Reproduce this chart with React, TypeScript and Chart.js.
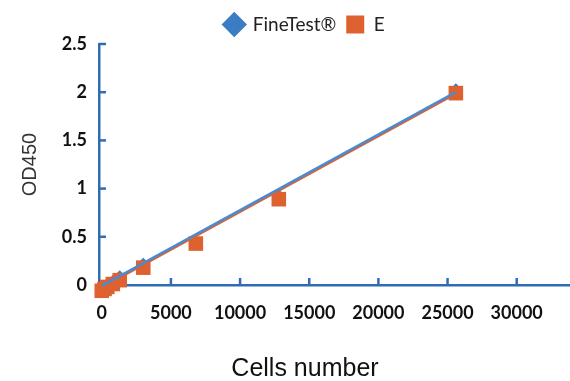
import React, { useEffect, useRef } from 'react';
import { Chart, registerables } from 'chart.js';

Chart.register(...registerables);

// ---- data ----
const cellCounts = [0, 200, 400, 800, 1300, 3000, 6800, 12800, 25600];
const fineTestOD = [-0.03, -0.02, 0.0, 0.03, 0.08, 0.21, 0.43, 0.92, 2.02];
const eOD = [-0.06, -0.04, -0.02, 0.01, 0.05, 0.18, 0.43, 0.89, 1.99];
const fitCells = [0, 25600];
const fineTestFitOD = [-0.01, 2.0];
const eFitOD = [-0.025, 1.985];
const xTickValues = [0, 5000, 10000, 15000, 20000, 25000, 30000];
const yTickValues = [0, 0.5, 1, 1.5, 2, 2.5];
const seriesNames = ['FineTest®', 'E'];
const xAxisTitle = 'Cells number';
const yAxisTitle = 'OD450';

const BLUE = '#3B7CC2';
const ORANGE = '#DE6130';
const AXIS = '#2F6CB3';

const toPoints = (xs: number[], ys: number[]) => xs.map((x, i) => ({ x, y: ys[i] }));

const innerTicks = {
  id: 'innerTicks',
  afterDraw(chart: any) {
    const { ctx, chartArea, scales } = chart;
    const xs = scales.x;
    const ys = scales.y;
    ctx.save();
    ctx.strokeStyle = AXIS;
    ctx.lineWidth = 2.5;
    xs.ticks.forEach((t: any) => {
      if (t.value === 0) return;
      const px = xs.getPixelForValue(t.value);
      ctx.beginPath();
      ctx.moveTo(px, chartArea.bottom);
      ctx.lineTo(px, chartArea.bottom - 7);
      ctx.stroke();
    });
    ys.ticks.forEach((t: any) => {
      if (t.value === 0) return;
      const py = ys.getPixelForValue(t.value);
      ctx.beginPath();
      ctx.moveTo(chartArea.left, py);
      ctx.lineTo(chartArea.left + 7, py);
      ctx.stroke();
    });
    ctx.restore();
  },
};

export default function App() {
  const ref = useRef<HTMLCanvasElement | null>(null);

  useEffect(() => {
    if (!ref.current) return;
    const chart = new Chart(ref.current, {
      type: 'scatter',
      data: {
        datasets: [
          {
            label: 'fit-blue',
            data: toPoints(fitCells, fineTestFitOD),
            showLine: true,
            borderColor: '#4A8BD0',
            borderWidth: 2.5,
            pointRadius: 0,
            clip: false as any,
          },
          {
            label: 'fit-orange',
            data: toPoints(fitCells, eFitOD),
            showLine: true,
            borderColor: ORANGE,
            borderWidth: 2.5,
            pointRadius: 0,
            clip: false as any,
          },
          {
            label: seriesNames[1],
            data: toPoints(cellCounts, eOD),
            showLine: false,
            backgroundColor: ORANGE,
            borderColor: ORANGE,
            borderWidth: 0,
            pointStyle: 'rect',
            pointRadius: 10.3,
            pointBorderWidth: 0,
            clip: false as any,
          },
          {
            label: seriesNames[0],
            data: toPoints(cellCounts, fineTestOD),
            showLine: false,
            backgroundColor: BLUE,
            borderColor: BLUE,
            borderWidth: 0,
            pointStyle: 'rectRot',
            pointRadius: 7,
            pointBorderWidth: 0,
            clip: false as any,
          },
        ],
      },
      options: {
        responsive: false,
        animation: false,
        layout: { padding: { top: 5, left: 0, right: 0, bottom: 0 } },
        plugins: {
          tooltip: { enabled: false },
          legend: {
            display: true,
            position: 'top',
            labels: {
              usePointStyle: true,
              boxWidth: 18,
              boxHeight: 18,
              padding: 10,
              color: '#222',
              font: { family: 'Lato', size: 19 },
              filter: (item: any) => item.datasetIndex >= 2,
              sort: (a: any, b: any) => b.datasetIndex - a.datasetIndex,
            },
          },
          title: {
            display: true,
            position: 'bottom',
            text: xAxisTitle,
            color: '#111',
            font: { family: 'Liberation Sans', size: 25, weight: 'normal', lineHeight: 0.96 },
            padding: { top: 0, bottom: 0 },
          },
        },
        scales: {
          x: {
            type: 'linear',
            min: -200,
            max: 36000,
            afterBuildTicks: (s: any) => { s.ticks = xTickValues.map((v) => ({ value: v })); },
            afterFit: (s: any) => { s.height = 72; s.paddingRight = 0; },
            border: { display: true, color: AXIS, width: 2.5 },
            grid: { display: true, drawOnChartArea: false, drawTicks: false },
            ticks: {
              autoSkip: false,
              maxRotation: 0,
              padding: 17,
              color: '#111',
              font: { family: 'Lato', size: 18, weight: 'bold' },
              callback: (v: any) => String(v),
            },
          },
          y: {
            type: 'linear',
            min: 0,
            max: 2.5,
            afterBuildTicks: (s: any) => { s.ticks = yTickValues.map((v) => ({ value: v })); },
            afterFit: (s: any) => { s.width = 99; },
            border: { display: true, color: AXIS, width: 2.5 },
            grid: { display: true, drawOnChartArea: false, drawTicks: false },
            title: {
              display: true,
              text: yAxisTitle,
              color: '#333',
              font: { family: 'Liberation Sans', size: 20 },
              padding: { top: 18, bottom: 0 },
            },
            ticks: {
              padding: 12,
              color: '#111',
              font: { family: 'Lato', size: 18, weight: 'bold' },
              callback: (v: any) => String(v),
            },
          },
        },
      },
      plugins: [innerTicks],
    });
    return () => chart.destroy();
  }, []);

  return (
    <div style={{ position: 'fixed', left: 0, top: 0, width: 570, height: 381, overflow: 'hidden', background: '#fff' }}>
      <canvas ref={ref} width={610} height={381} style={{ display: 'block', width: 610, height: 381 }} />
    </div>
  );
}
